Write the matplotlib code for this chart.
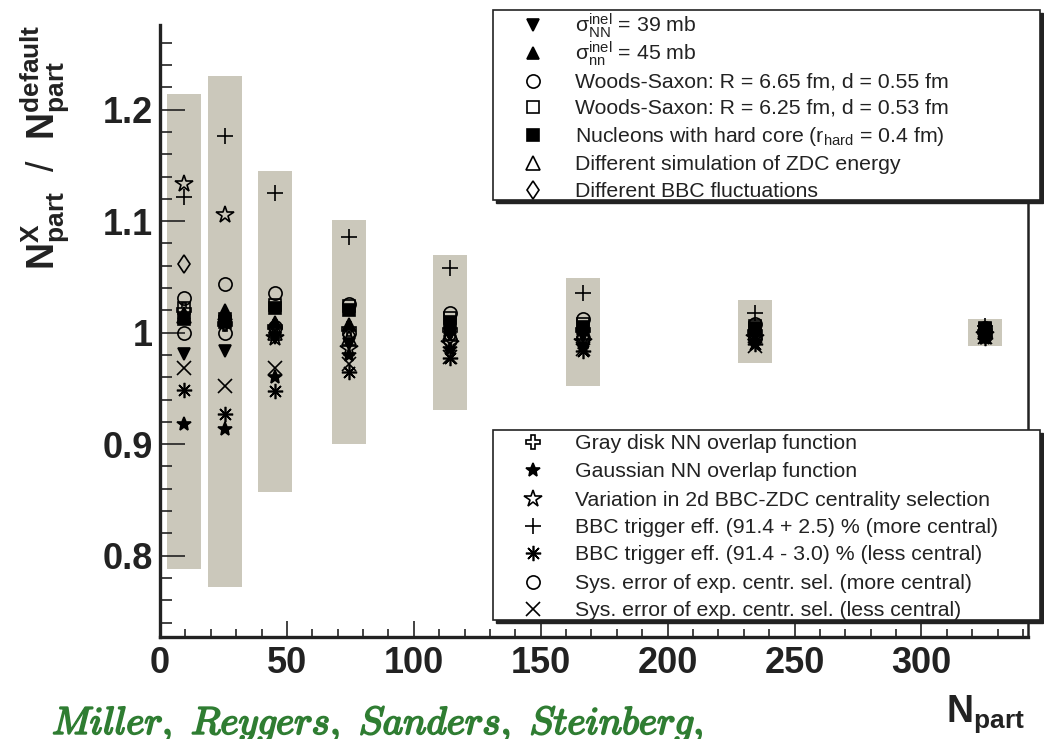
import matplotlib
matplotlib.use("Agg")
import matplotlib.pyplot as plt
import matplotlib.patheffects as pe
from matplotlib.patches import Rectangle
from matplotlib.ticker import MultipleLocator, FuncFormatter

plt.rcParams['font.family'] = ['Liberation Sans', 'DejaVu Sans']
plt.rcParams['mathtext.fontset'] = 'custom'
plt.rcParams['mathtext.rm'] = 'Liberation Sans'
plt.rcParams['mathtext.it'] = 'Liberation Sans:italic'
plt.rcParams['mathtext.bf'] = 'Liberation Sans:bold'

# centrality classes (Npart of the default Glauber calculation)
npart = [9.5, 25.7, 45.5, 74.4, 114.2, 166.6, 234.6, 325.2]
box_lo = [0.788, 0.772, 0.857, 0.900, 0.931, 0.952, 0.973, 0.988]
box_hi = [1.214, 1.230, 1.145, 1.101, 1.070, 1.049, 1.029, 1.012]

# ratios N_part^X / N_part^default
sigma39 = [0.981, 0.984, 0.995, 0.990, 0.998, 0.997, 0.996, 0.998]
sigma45 = [1.018, 1.020, 1.010, 1.008, 1.004, 1.003, 1.003, 1.002]
ws665 = [1.000, 1.000, 1.005, 1.000, 0.993, 0.995, 0.995, 0.997]
ws625 = [1.022, 1.012, 1.025, 1.024, 1.013, 1.008, 1.006, 1.004]
hardcore = [1.012, 1.010, 1.022, 1.020, 1.010, 1.005, 1.004, 1.003]
zdc = [1.015, 1.018, 1.000, 0.995, 1.000, 1.000, 1.000, 1.001]
bbc_fluct = [1.062, 1.010, 1.000, 0.998, 0.997, 0.996, 0.998, 0.999]
gray_disk = [1.020, 1.008, 1.005, 1.003, 1.002, 1.002, 1.001, 1.001]
gauss = [0.918, 0.914, 0.960, 0.980, 0.985, 0.988, 0.990, 0.995]
var2d = [1.133, 1.106, 0.995, 0.985, 0.990, 0.992, 0.995, 0.998]
bbc_more = [1.122, 1.176, 1.125, 1.086, 1.058, 1.036, 1.018, 1.006]
bbc_less = [0.949, 0.927, 0.948, 0.965, 0.977, 0.984, 0.990, 0.995]
sys_more = [1.031, 1.044, 1.036, 1.026, 1.018, 1.012, 1.008, 1.004]
sys_less = [0.968, 0.952, 0.968, 0.972, 0.978, 0.985, 0.988, 0.996]

labels_top = [
    r'$\mathrm{\sigma^{inel}_{NN}}$ = 39 mb',
    r'$\mathrm{\sigma^{inel}_{nn}}$ = 45 mb',
    'Woods-Saxon: R = 6.65 fm, d = 0.55 fm',
    'Woods-Saxon: R = 6.25 fm, d = 0.53 fm',
    r'Nucleons with hard core (r$_{\mathrm{hard}}$ = 0.4 fm)',
    'Different simulation of ZDC energy',
    'Different BBC fluctuations',
]
labels_bot = [
    'Gray disk NN overlap function',
    'Gaussian NN overlap function',
    'Variation in 2d BBC-ZDC centrality selection',
    'BBC trigger eff. (91.4 + 2.5) % (more central)',
    'BBC trigger eff. (91.4 - 3.0) % (less central)',
    'Sys. error of exp. centr. sel. (more central)',
    'Sys. error of exp. centr. sel. (less central)',
]

# marker, filled, size
sty = {
    'sigma39': ('v', True, 9), 'sigma45': ('^', True, 9),
    'ws665': ('o', False, 9.5), 'ws625': ('s', False, 8.5),
    'hardcore': ('s', True, 8.5), 'zdc': ('^', False, 9.5),
    'bbc_fluct': ('d', False, 9.5), 'gray_disk': ('P', False, 10),
    'gauss': ('*', True, 10), 'var2d': ('*', False, 13),
    'bbc_more': ('+', False, 11), 'bbc_less': ((8, 2, 0), False, 11),
    'sys_more': ('o', False, 9.5), 'sys_less': ('x', False, 9.5),
}
series_top = [('sigma39', sigma39), ('sigma45', sigma45), ('ws665', ws665),
              ('ws625', ws625), ('hardcore', hardcore), ('zdc', zdc),
              ('bbc_fluct', bbc_fluct)]
series_bot = [('gray_disk', gray_disk), ('gauss', gauss), ('var2d', var2d),
              ('bbc_more', bbc_more), ('bbc_less', bbc_less),
              ('sys_more', sys_more), ('sys_less', sys_less)]

W, H = 1044, 739


def fx(px):
    return px / W


def fy(py):
    return 1 - py / H


def mk(key):
    m, filled, ms = sty[key]
    return dict(marker=m, ms=ms, color='black', mec='black',
                mfc='black' if filled else 'none', mew=1.2, ls='none')


fig = plt.figure(figsize=(W / 100, H / 100), dpi=100)
ax = fig.add_axes([fx(160), fy(637), fx(1028) - fx(160), fy(25) - fy(637)])

ax.bar(npart, [h - l for h, l in zip(box_hi, box_lo)], bottom=box_lo,
       width=13.4, color='#cbc8bb', zorder=1)
for key, vals in series_top + series_bot:
    ax.plot(npart, vals, zorder=3, **mk(key))

ax.set_xlim(0, 342)
ax.set_ylim(0.727, 1.276)
ax.xaxis.set_major_locator(MultipleLocator(50))
ax.xaxis.set_minor_locator(MultipleLocator(10))
ax.yaxis.set_major_locator(MultipleLocator(0.1))
ax.yaxis.set_minor_locator(MultipleLocator(0.02))
ax.yaxis.set_major_formatter(FuncFormatter(lambda v, p: '%g' % round(v, 2)))
ax.tick_params(which='both', direction='in', top=False, right=False,
               width=1.2, color='#222222')
ax.tick_params(axis='y', which='major', length=18, pad=5)
ax.tick_params(axis='y', which='minor', length=8.5)
ax.tick_params(axis='x', which='major', length=11.5, pad=6.5)
ax.tick_params(axis='x', which='minor', length=5.8)
for lab in ax.get_xticklabels() + ax.get_yticklabels():
    lab.set_fontsize(26)
    lab.set_fontweight('bold')
    lab.set_color('#222222')
ax.spines['top'].set_visible(False)
ax.spines['left'].set_linewidth(2.4)
ax.spines['bottom'].set_linewidth(2.4)
ax.spines['right'].set_linewidth(1.8)
for s in ax.spines.values():
    s.set_color('#222222')


def draw_legend(x0, y0, x1, y1, rows, series, labels):
    lax = fig.add_axes([fx(x0), fy(y1), fx(x1) - fx(x0), fy(y0) - fy(y1)])
    lax.set_xlim(x0, x1)
    lax.set_ylim(y1, y0)
    lax.axis('off')
    fig.patches.append(Rectangle((fx(x0 + 3), fy(y1 + 3)), fx(x1) - fx(x0),
                                 fy(y0) - fy(y1), transform=fig.transFigure,
                                 facecolor='#222222', edgecolor='#222222',
                                 zorder=4))
    fig.patches.append(Rectangle((fx(x0), fy(y1)), fx(x1) - fx(x0),
                                 fy(y0) - fy(y1), transform=fig.transFigure,
                                 facecolor='white', edgecolor='#222222',
                                 lw=1.2, zorder=4.5))
    lax.set_zorder(5)
    for yr, (key, _), text in zip(rows, series, labels):
        lax.plot([533], [yr], clip_on=False, **mk(key))
        lax.text(575, yr + 7, text, fontsize=15.3, va='baseline', ha='left',
                 color='#222222')


draw_legend(493, 10, 1040, 200, [25, 53, 81, 107, 135, 163, 190],
            series_top, labels_top)
draw_legend(493, 430, 1040, 620, [442, 470, 499, 526, 553, 582, 609],
            series_bot, labels_bot)

fig.text(fx(45), fy(25), r'$\mathbf{N^{X}_{part}}$  /  $\mathbf{N^{default}_{part}}$',
         rotation=90, ha='center', va='top', fontsize=27, color='#222222')
fig.text(fx(1025), fy(722), r'$\mathbf{N_{part}}$', ha='right', va='baseline',
         fontsize=27, color='#222222')
fig.text(fx(52), fy(734), r'$\mathit{Miller,\ Reygers,\ Sanders,\ Steinberg,}$',
         math_fontfamily='cm', fontsize=28, color='#2f7d32', ha='left',
         va='baseline',
         path_effects=[pe.withStroke(linewidth=1.3, foreground='#2f7d32')])

fig.savefig('out.png', dpi=100)
